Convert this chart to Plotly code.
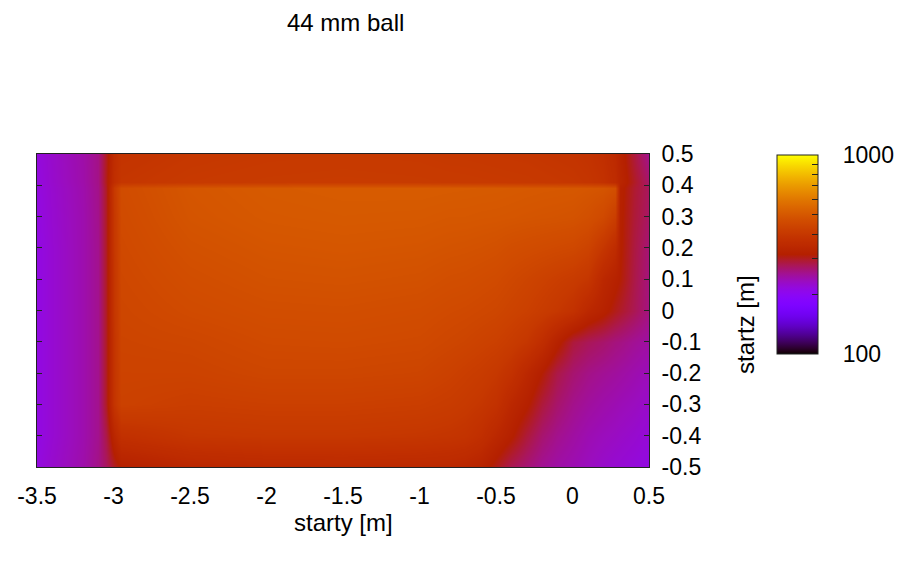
import numpy as np
import plotly.graph_objects as go

# ---- data ----
starty = [-3.5, -3.4, -3.2, -3.1, -3.05, -3.0, -2.95, -2.5, -2.0, -1.5, -1.0, -0.8,
          -0.7, -0.6, -0.5, -0.4, -0.3, -0.2, -0.1, 0.0, 0.1, 0.2, 0.28, 0.31, 0.4, 0.5]
startz = [-0.5, -0.4, -0.3, -0.2, -0.1, 0.0, 0.1, 0.2, 0.3, 0.39, 0.41, 0.5]

row_m05 = [215, 225, 242, 258, 275, 300, 320, 340, 348, 350, 348, 345,
           340, 330, 305, 280, 265, 252, 244, 238, 232, 226, 222, 221, 217, 212]
row_m04 = [212, 222, 240, 255, 285, 340, 375, 395, 400, 400, 395, 390,
           385, 370, 345, 320, 290, 268, 255, 246, 238, 233, 230, 228, 224, 218]
row_m03 = [212, 222, 240, 255, 300, 390, 430, 420, 425, 425, 420, 412,
           405, 395, 380, 345, 320, 290, 270, 256, 248, 242, 238, 236, 232, 226]
row_m02 = [212, 222, 240, 255, 300, 390, 435, 435, 445, 445, 440, 428,
           420, 412, 400, 380, 345, 315, 285, 268, 258, 252, 248, 246, 240, 234]
row_m01 = [212, 222, 240, 255, 300, 390, 440, 445, 458, 460, 455, 445,
           440, 432, 425, 412, 395, 365, 325, 290, 278, 270, 262, 260, 252, 245]
row_p00 = [212, 222, 240, 255, 300, 395, 445, 460, 470, 472, 466, 458,
           455, 450, 445, 435, 425, 412, 398, 380, 345, 325, 305, 298, 280, 260]
row_p01 = [212, 222, 240, 255, 300, 395, 450, 470, 482, 485, 480, 472,
           470, 465, 460, 450, 440, 430, 420, 410, 395, 345, 325, 315, 285, 262]
row_p02 = [212, 222, 240, 255, 300, 398, 455, 480, 492, 496, 492, 487,
           485, 482, 478, 470, 465, 460, 455, 450, 435, 395, 360, 320, 288, 265]
row_p03 = [213, 223, 240, 256, 300, 400, 460, 490, 502, 506, 504, 500,
           500, 498, 497, 495, 492, 490, 488, 485, 475, 455, 420, 322, 292, 272]
row_p039 = [214, 224, 241, 257, 300, 405, 465, 495, 508, 512, 513, 511,
            510, 509, 508, 506, 504, 502, 501, 500, 495, 490, 475, 325, 295, 275]
row_p041 = [215, 225, 242, 258, 305, 370, 395, 405, 410, 412, 410, 408,
            407, 406, 405, 404, 403, 401, 399, 397, 392, 380, 358, 336, 300, 270]
row_p05 = [216, 226, 243, 258, 302, 362, 388, 398, 403, 405, 403, 400,
           400, 399, 398, 397, 396, 394, 392, 390, 384, 370, 350, 330, 290, 255]

values = [row_m05, row_m04, row_m03, row_m02, row_m01, row_p00,
          row_p01, row_p02, row_p03, row_p039, row_p041, row_p05]

x_tick_vals = [-3.5, -3.0, -2.5, -2.0, -1.5, -1.0, -0.5, 0.0, 0.5]
x_tick_text = ["-3.5", "-3", "-2.5", "-2", "-1.5", "-1", "-0.5", "0", "0.5"]
y_tick_vals = [-0.5, -0.4, -0.3, -0.2, -0.1, 0.0, 0.1, 0.2, 0.3, 0.4, 0.5]
y_tick_text = ["-0.5", "-0.4", "-0.3", "-0.2", "-0.1", "0", "0.1", "0.2", "0.3", "0.4", "0.5"]
cb_tick_vals = [100, 200, 300, 400, 500, 600, 700, 800, 900, 1000]
cb_tick_text = ["100", "", "", "", "", "", "", "", "", "1000"]

title_text = "44 mm ball"
xlabel = "starty [m]"
ylabel = "startz [m]"

# ---- gnuplot default palette (rgbformulae 7,5,15) ----
N = 128
colorscale = []
for i in range(N + 1):
    t = i / N
    r = np.sqrt(t)
    g = t ** 3
    b = max(0.0, np.sin(2 * np.pi * t))
    colorscale.append([t, "rgb(%d,%d,%d)" % (round(r * 255), round(g * 255), round(b * 255))])

FONT = "Liberation Sans, Arial, sans-serif"
NB = "\u00a0" * 3

zlog = np.log10(np.array(values, dtype=float))

fig = go.Figure()
fig.add_trace(go.Heatmap(
    x=starty, y=startz, z=zlog,
    zmin=2, zmax=3, zsmooth="best",
    colorscale=colorscale,
    hoverinfo="skip",
    colorbar=dict(
        thickness=41, thicknessmode="pixels",
        len=199, lenmode="pixels",
        x=1.209, xanchor="left", xpad=0,
        y=0.997, yanchor="top", ypad=0,
        outlinecolor="#222", outlinewidth=1,
        tickmode="array",
        tickvals=list(np.log10(cb_tick_vals)),
        ticktext=[(NB + t) if t else "" for t in cb_tick_text],
        ticks="inside", ticklen=6, tickcolor="#222", tickwidth=1,
        tickfont=dict(family=FONT, size=23, color="black"),
    ),
))

# page body has an 8px offset; figure sized so the window shows the reference layout
fig.update_layout(
    width=894, height=555,
    margin=dict(l=29, r=253, t=146, b=96, autoexpand=False),
    paper_bgcolor="white", plot_bgcolor="white",
    showlegend=False,
    xaxis=dict(
        range=[-3.5, 0.5], tickmode="array",
        tickvals=x_tick_vals, ticktext=x_tick_text,
        showgrid=False, zeroline=False,
        showline=True, mirror=True, linecolor="#222", linewidth=1,
        ticks="", ticklabelstandoff=8,
        tickfont=dict(family=FONT, size=23, color="black"),
    ),
    yaxis=dict(
        range=[-0.5, 0.5], side="right", tickmode="array",
        tickvals=y_tick_vals, ticktext=y_tick_text,
        showgrid=False, zeroline=False,
        showline=True, mirror="ticks", linecolor="#222", linewidth=1,
        ticks="inside", ticklen=5, tickcolor="#222",
        ticklabelstandoff=7,
        tickfont=dict(family=FONT, size=23, color="black"),
    ),
    annotations=[
        dict(text=title_text, xref="paper", yref="paper",
             x=(345 - 37) / 612, y=(467 - 22) / 313,
             xanchor="center", yanchor="middle", showarrow=False,
             font=dict(family=FONT, size=24, color="black")),
        dict(text=xlabel, xref="paper", yref="paper",
             x=(343 - 37) / 612, y=(467 - 522) / 313,
             xanchor="center", yanchor="middle", showarrow=False,
             font=dict(family=FONT, size=24, color="black")),
        dict(text=ylabel, xref="paper", yref="paper", textangle=-90,
             x=(745 - 37) / 612, y=(467 - 325) / 313,
             xanchor="center", yanchor="middle", showarrow=False,
             font=dict(family=FONT, size=24, color="black")),
    ],
)

fig.write_html("out.html")
